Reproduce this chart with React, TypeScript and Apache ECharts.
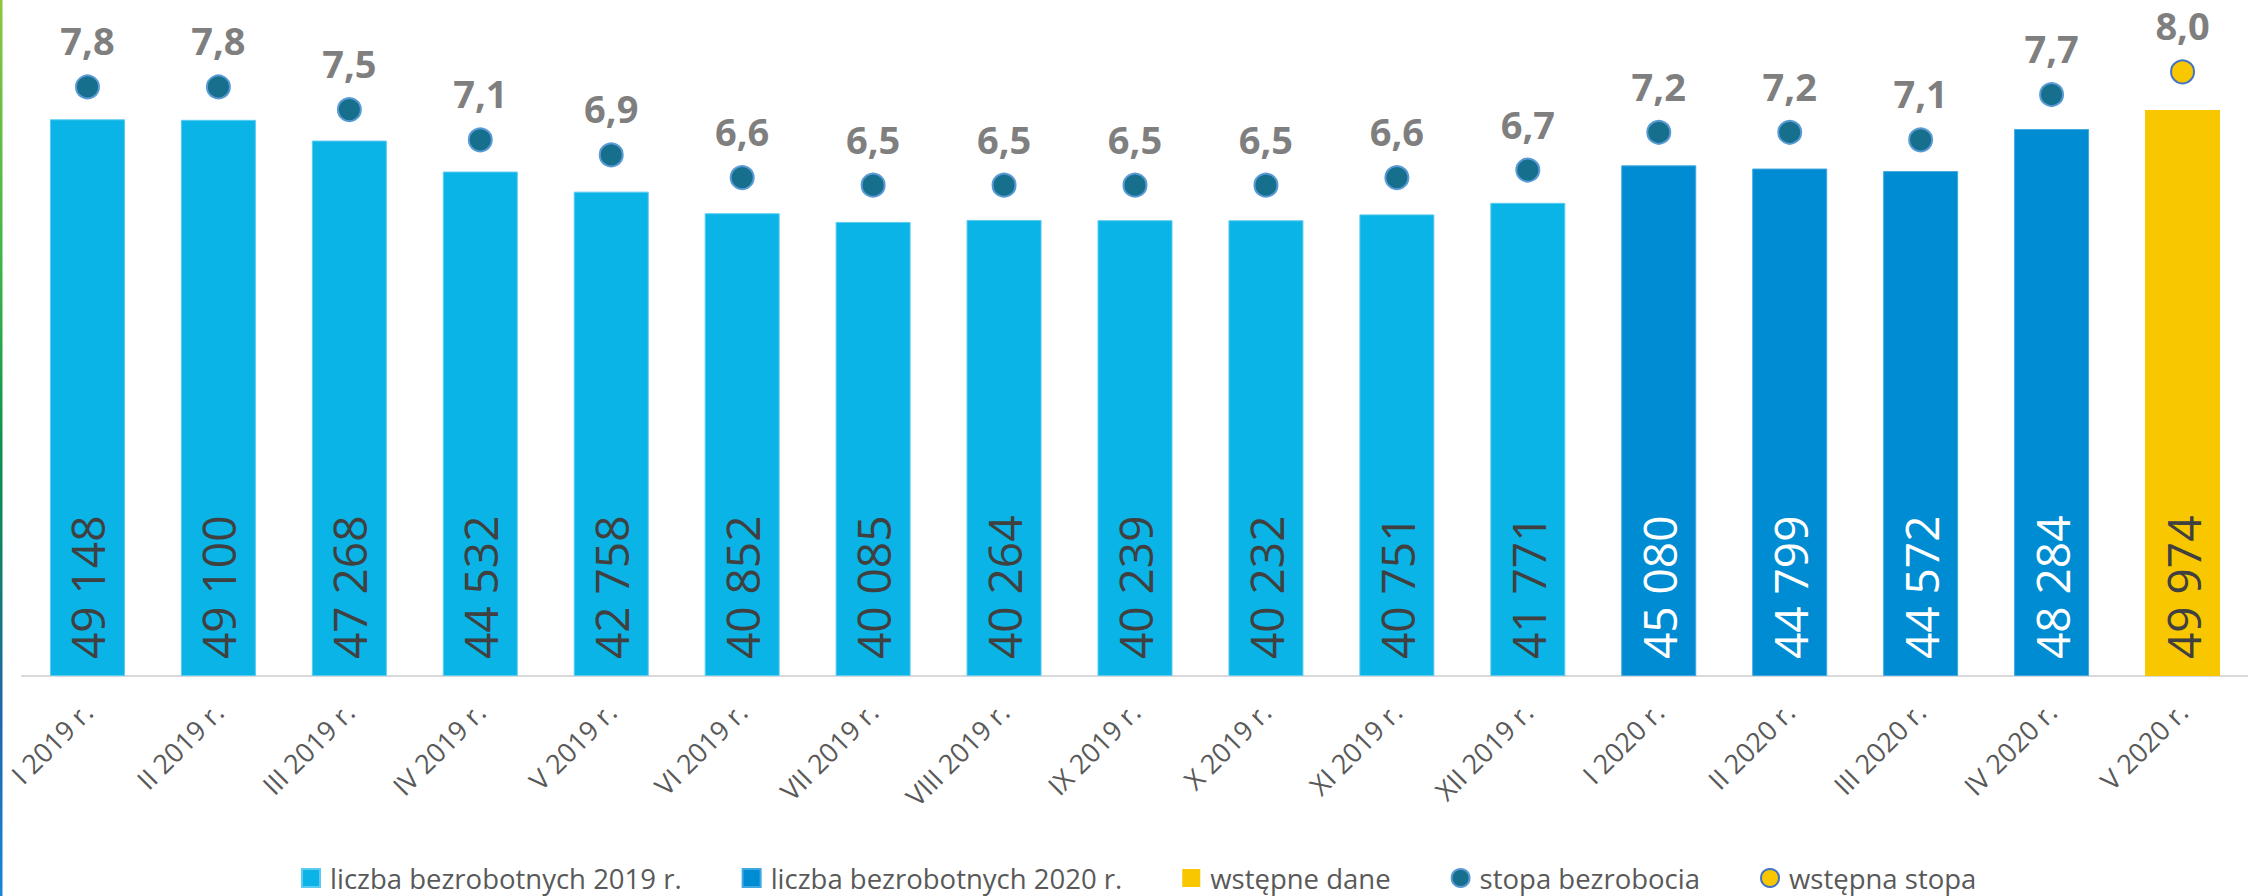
import React, { useEffect, useRef } from "react";
import * as echarts from "echarts";

const categories = [
  "I 2019 r.", "II 2019 r.", "III 2019 r.", "IV 2019 r.", "V 2019 r.", "VI 2019 r.",
  "VII 2019 r.", "VIII 2019 r.", "IX 2019 r.", "X 2019 r.", "XI 2019 r.", "XII 2019 r.",
  "I 2020 r.", "II 2020 r.", "III 2020 r.", "IV 2020 r.", "V 2020 r.",
];
const unemployed2019 = [49148, 49100, 47268, 44532, 42758, 40852, 40085, 40264, 40239, 40232, 40751, 41771];
const unemployed2020 = [45080, 44799, 44572, 48284];
const preliminaryCount = [49974];
const unemploymentRate = [7.8, 7.8, 7.5, 7.1, 6.9, 6.6, 6.5, 6.5, 6.5, 6.5, 6.6, 6.7, 7.2, 7.2, 7.1, 7.7];
const preliminaryRate = [8.0];

const seriesNames = [
  "liczba bezrobotnych 2019 r.",
  "liczba bezrobotnych 2020 r.",
  "wstępne dane",
  "stopa bezrobocia",
  "wstępna stopa",
];

const FONT = "'Open Sans', 'Noto Sans', sans-serif";

function place(values: number[], start: number): (number | string)[] {
  const out: (number | string)[] = categories.map(() => "-");
  values.forEach((v, i) => (out[start + i] = v));
  return out;
}

const fmtThousands = (v: number) => String(v).replace(/\B(?=(\d{3})+(?!\d))/g, " ");
const fmtRate = (v: number) => v.toFixed(1).replace(".", ",");

export default function App() {
  const ref = useRef<HTMLDivElement>(null);
  useEffect(() => {
    if (!ref.current) return;
    const chart = echarts.init(ref.current, null, { renderer: "svg" });
    const barLabel = (color: string) => ({
      show: true,
      position: "insideBottom",
      distance: 17,
      rotate: 90,
      align: "left",
      verticalAlign: "middle",
      fontSize: 46,
      fontFamily: FONT,
      color,
      formatter: (p: any) => fmtThousands(p.value),
    });
    const rateLabel = {
      show: true,
      position: "top",
      distance: 15,
      fontSize: 38,
      fontWeight: "bold",
      fontFamily: FONT,
      color: "#7F7F7F",
      formatter: (p: any) => fmtRate(p.value),
    };
    chart.setOption({
      animation: false,
      backgroundColor: "#ffffff",
      graphic: [
        {
          type: "rect",
          z: 100,
          shape: { x: 0, y: 0, width: 2.5, height: 896 },
          style: {
            fill: new echarts.graphic.LinearGradient(0, 0, 0, 1, [
              { offset: 0, color: "#8DC63F" },
              { offset: 0.3, color: "#3DB54A" },
              { offset: 0.5, color: "#0F9150" },
              { offset: 0.62, color: "#108266" },
              { offset: 0.8, color: "#1F66AE" },
              { offset: 1, color: "#1787D6" },
            ]),
          },
        },
      ],
      legend: {
        data: seriesNames.map((n, i) => ({ name: n, icon: i < 3 ? "rect" : "circle" })),
        left: 301,
        top: 864,
        padding: 0,
        itemWidth: 18,
        itemHeight: 18,
        itemGap: 60,
        textStyle: {
          fontSize: 27.5,
          lineHeight: 28,
          color: "#595959",
          fontFamily: FONT,
          padding: [0, 0, 0, 5],
        },
      },
      grid: { left: 22, width: 2233, top: 19, bottom: 220 },
      xAxis: {
        type: "category",
        data: categories,
        axisLine: { show: true, lineStyle: { color: "#D9D9D9", width: 2 } },
        axisTick: { show: false },
        axisLabel: {
          rotate: 45,
          margin: 31,
          fontSize: 27,
          color: "#595959",
          fontFamily: FONT,
          interval: 0,
        },
      },
      yAxis: [
        { type: "value", min: 0, max: 58000, show: false, splitLine: { show: false } },
        { type: "value", min: 0, max: 8.7, show: false, splitLine: { show: false } },
      ],
      series: [
        {
          name: seriesNames[0],
          type: "bar",
          stack: "count",
          barWidth: 75,
          data: place(unemployed2019, 0),
          itemStyle: { color: "#0BB4E6", borderColor: "#5CCBF0", borderWidth: 1 },
          label: barLabel("#404040"),
        },
        {
          name: seriesNames[1],
          type: "bar",
          stack: "count",
          barWidth: 75,
          data: place(unemployed2020, 12),
          itemStyle: { color: "#008CD3", borderColor: "#40A8E0", borderWidth: 1 },
          label: barLabel("#FFFFFF"),
        },
        {
          name: seriesNames[2],
          type: "bar",
          stack: "count",
          barWidth: 75,
          data: place(preliminaryCount, 16),
          itemStyle: { color: "#F9C700" },
          label: barLabel("#404040"),
        },
        {
          name: seriesNames[3],
          type: "scatter",
          yAxisIndex: 1,
          symbol: "circle",
          symbolSize: 23,
          data: place(unemploymentRate, 0),
          itemStyle: { color: "#176F8E", borderColor: "#5B9BD5", borderWidth: 2, opacity: 1 },
          label: rateLabel,
        },
        {
          name: seriesNames[4],
          type: "scatter",
          yAxisIndex: 1,
          symbol: "circle",
          symbolSize: 23,
          data: place(preliminaryRate, 16),
          itemStyle: { color: "#F9C700", borderColor: "#4472C4", borderWidth: 2, opacity: 1 },
          label: rateLabel,
        },
      ],
    });
    return () => chart.dispose();
  }, []);
  return (
    <div
      ref={ref}
      style={{ position: "fixed", left: 0, top: 0, width: 2248, height: 896, background: "#fff" }}
    />
  );
}
